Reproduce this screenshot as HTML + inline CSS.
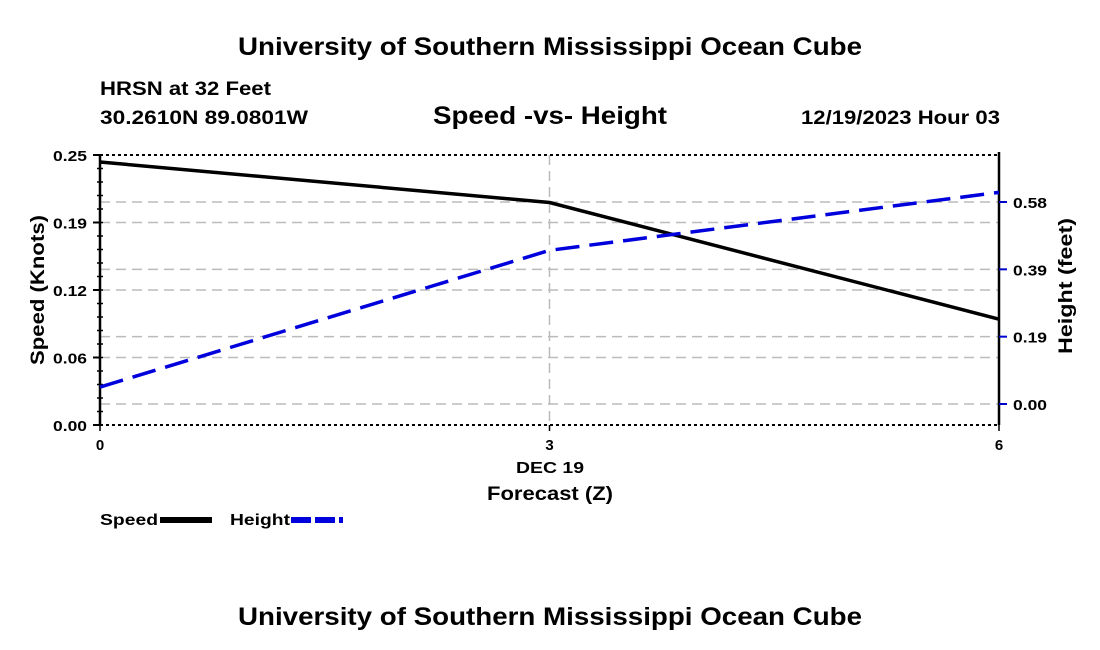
<!DOCTYPE html>
<html><head><meta charset="utf-8"><style>
body{margin:0;background:#fff;}
svg{display:block;font-family:"Liberation Sans",Arial,sans-serif;font-weight:bold;}
</style></head><body>
<svg id="chart" width="1100" height="650" viewBox="0 0 1100 650">
<text x="238" y="55" font-size="25" textLength="624" lengthAdjust="spacingAndGlyphs">University of Southern Mississippi Ocean Cube</text>
<text x="100" y="95" font-size="19" textLength="171" lengthAdjust="spacingAndGlyphs">HRSN at 32 Feet</text>
<text x="100" y="124" font-size="19" textLength="208" lengthAdjust="spacingAndGlyphs">30.2610N  89.0801W</text>
<text x="433" y="124" font-size="25" textLength="234" lengthAdjust="spacingAndGlyphs">Speed -vs- Height</text>
<text x="801" y="124" font-size="19" textLength="199" lengthAdjust="spacingAndGlyphs">12/19/2023 Hour 03</text>
<g id="grid"></g>
<g id="axes"></g>
<g id="series"></g>
<text x="516" y="473" font-size="16" textLength="68" lengthAdjust="spacingAndGlyphs">DEC 19</text>
<text x="487" y="500" font-size="19" textLength="126" lengthAdjust="spacingAndGlyphs">Forecast (Z)</text>
<text transform="translate(44,365) rotate(-90)" font-size="19" textLength="150" lengthAdjust="spacingAndGlyphs">Speed (Knots)</text>
<text transform="translate(1072,354) rotate(-90)" font-size="19" textLength="136" lengthAdjust="spacingAndGlyphs">Height (feet)</text>
<g>
<text x="100" y="525" font-size="16" textLength="58" lengthAdjust="spacingAndGlyphs">Speed</text>
<line x1="160" y1="520" x2="212" y2="520" stroke="#000" stroke-width="6"/>
<text x="230" y="525" font-size="16" textLength="60" lengthAdjust="spacingAndGlyphs">Height</text>
<line x1="291" y1="520" x2="343" y2="520" stroke="#0000dd" stroke-width="6" stroke-dasharray="20,4"/>
</g>
<text x="238" y="625" font-size="25" textLength="624" lengthAdjust="spacingAndGlyphs">University of Southern Mississippi Ocean Cube</text>
</svg>
<script>
const hours = [0, 3, 6];
const speedValues = [0.2435, 0.206, 0.098];
const heightValues = [0.049, 0.445, 0.613];
const leftTicks = [0, 0.0625, 0.125, 0.1875, 0.25];
const leftTickLabels = ["0.00", "0.06", "0.12", "0.19", "0.25"];
const rightTicks = [0, 0.195, 0.39, 0.585];
const rightTickLabels = ["0.00", "0.19", "0.39", "0.58"];
const xTicks = [0, 3, 6];
const xTickLabels = ["0", "3", "6"];

const NS = "http://www.w3.org/2000/svg";
const X0 = 100, X1 = 999, YT = 155, YB = 425;
const xS = v => X0 + (v - 0) / 6 * (X1 - X0);
const yL = v => YB - v / 0.25 * (YB - YT);
const yR = v => 404 - v * (202 / 0.585);
function mk(tag, attrs, parent) {
  const e = document.createElementNS(NS, tag);
  for (const k in attrs) e.setAttribute(k, attrs[k]);
  parent.appendChild(e);
  return e;
}
const grid = document.getElementById('grid');
const axes = document.getElementById('axes');
const series = document.getElementById('series');

leftTicks.slice(1, 4).forEach(t => {
  const l = mk('line', {x1: X0, x2: X1, y1: yL(t), y2: yL(t), stroke: '#bbb', 'stroke-width': 1.5, 'stroke-dasharray': '10,6'}, grid);
  
  
});
rightTicks.forEach(t => {
  const l = mk('line', {x1: X0, x2: X1, y1: yR(t), y2: yR(t), stroke: '#bbb', 'stroke-width': 1.5, 'stroke-dasharray': '10,6'}, grid);
  
  
});
{
  const l = mk('line', {x1: xS(3), x2: xS(3), y1: YT, y2: YB, stroke: '#bbb', 'stroke-width': 1.5, 'stroke-dasharray': '10,6'}, grid);
  
  
}
[YT, YB].forEach(y => {
  const l = mk('line', {x1: X0, x2: X1, y1: y, y2: y, stroke: '#000', 'stroke-width': 2, 'stroke-dasharray': '3,3'}, axes);
  
  
});
{
  const l = mk('line', {x1: X0, x2: X0, y1: YT, y2: YB, stroke: '#000', 'stroke-width': 2.5}, axes);
  
  
  const r = mk('line', {x1: X1, x2: X1, y1: YT - 3, y2: YB, stroke: '#000', 'stroke-width': 2.5}, axes);
  
  
}
for (let i = 0; i <= 20; i++) {
  const y = YB - i * (YB - YT) / 20;
  const l = mk('line', {x1: X0 - 3, x2: X0 + 3, y1: y, y2: y, stroke: '#000', 'stroke-width': 1.5}, axes);
  
  
}
leftTicks.forEach((t, i) => {
  const l = mk('line', {x1: X0 - 7, x2: X0, y1: yL(t), y2: yL(t), stroke: '#000', 'stroke-width': 2}, axes);
  
  
  const tx = mk('text', {x: X0 - 13, y: yL(t) + 6, 'font-size': 15, 'text-anchor': 'end', textLength: 34, lengthAdjust: 'spacingAndGlyphs'}, axes);
  tx.textContent = leftTickLabels[i];
  
  
});
rightTicks.forEach((t, i) => {
  const l = mk('line', {x1: X1, x2: X1 + 8, y1: yR(t), y2: yR(t), stroke: '#0000cc', 'stroke-width': 2}, axes);
  
  
  const tx = mk('text', {x: X1 + 14, y: yR(t) + 6, 'font-size': 15, textLength: 34, lengthAdjust: 'spacingAndGlyphs'}, axes);
  tx.textContent = rightTickLabels[i];
  
  
});
xTicks.forEach((t, i) => {
  const l = mk('line', {x1: xS(t), x2: xS(t), y1: YB, y2: YB + 6, stroke: '#000', 'stroke-width': 1.5}, axes);
  
  
  const tx = mk('text', {x: xS(t), y: YB + 25, 'font-size': 15, 'text-anchor': 'middle'}, axes);
  tx.textContent = xTickLabels[i];
  
  
});
{
  const s = mk('polyline', {points: hours.map((h, i) => xS(h) + ',' + yL(speedValues[i])).join(' '), fill: 'none', stroke: '#000', 'stroke-width': 3.5}, series);
  
  
  const h = mk('polyline', {points: hours.map((x, i) => xS(x) + ',' + yR(heightValues[i])).join(' '), fill: 'none', stroke: '#0000dd', 'stroke-width': 3.5, 'stroke-dasharray': '24,10'}, series);
  
  
}
</script>
</body></html>
